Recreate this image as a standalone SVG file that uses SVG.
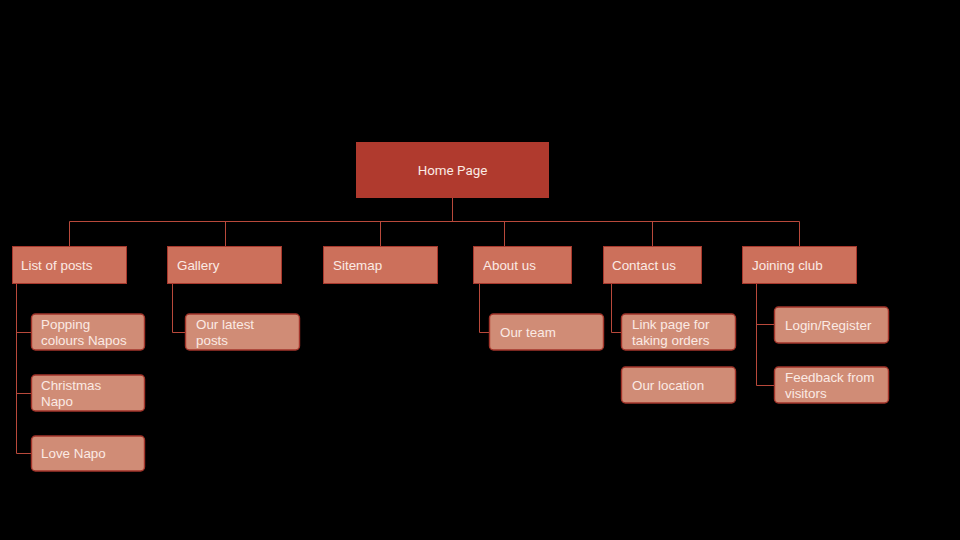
<svg xmlns="http://www.w3.org/2000/svg" width="960" height="540" viewBox="0 0 960 540">
  <style>
    .root { fill: #b03a2e; }
    .sec { fill: #cc705b; stroke: #a8382d; stroke-width: 1; }
    .sub { fill: #d08c76; stroke: #a3352b; stroke-width: 1.4; }
    .lbl { font-family: "Liberation Sans", Arial, sans-serif; font-size: 13.4px; fill: #fbeae4; }
    .home { font-family: Roboto, "Liberation Sans", sans-serif; font-size: 13.4px; fill: #fbeae4; }
    .wire { fill: none; stroke: #b9493b; stroke-width: 1; }
  </style>
  <rect width="960" height="540" fill="#000"/>

  <g id="connectors" class="wire">
    <path d="M452.5 198 V221.5"/>
    <path d="M69.5 246 V221.5 H799.5 V246"/>
    <path d="M225.5 221.5 V246"/>
    <path d="M380.5 221.5 V246"/>
    <path d="M504.5 221.5 V246"/>
    <path d="M652.5 221.5 V246"/>
    <path d="M16.5 283 V453.5 H31"/>
    <path d="M16.5 332.5 H31"/>
    <path d="M16.5 393.5 H31"/>
    <path d="M172.5 283 V332.5 H185"/>
    <path d="M479.5 283 V332.5 H489"/>
    <path d="M611.5 283 V332.5 H621"/>
    <path d="M756.5 283 V385.5 H774"/>
    <path d="M756.5 324.5 H774"/>
  </g>

  <g id="home-page">
    <rect class="root" x="356" y="142" width="193" height="56"/>
    <text class="home" x="452.5" y="174.5" text-anchor="middle">Home Page</text>
  </g>

  <g id="list-of-posts">
    <rect class="sec" x="12.5" y="246.5" width="114" height="37"/>
    <text class="lbl" x="21" y="269.5">List of posts</text>
  </g>
  <g id="gallery">
    <rect class="sec" x="167.5" y="246.5" width="114" height="37"/>
    <text class="lbl" x="177" y="269.5">Gallery</text>
  </g>
  <g id="sitemap">
    <rect class="sec" x="323.5" y="246.5" width="114" height="37"/>
    <text class="lbl" x="333" y="269.5">Sitemap</text>
  </g>
  <g id="about-us">
    <rect class="sec" x="473.5" y="246.5" width="98" height="37"/>
    <text class="lbl" x="483" y="269.5">About us</text>
  </g>
  <g id="contact-us">
    <rect class="sec" x="603.5" y="246.5" width="98" height="37"/>
    <text class="lbl" x="612" y="269.5">Contact us</text>
  </g>
  <g id="joining-club">
    <rect class="sec" x="742.5" y="246.5" width="114" height="37"/>
    <text class="lbl" x="752" y="269.5">Joining club</text>
  </g>

  <g id="popping-colours">
    <rect class="sub" x="31.5" y="314" width="113" height="36" rx="4"/>
    <text class="lbl" x="41" y="329">Popping</text>
    <text class="lbl" x="41" y="345">colours Napos</text>
  </g>
  <g id="christmas-napo">
    <rect class="sub" x="31.5" y="375" width="113" height="36" rx="4"/>
    <text class="lbl" x="41" y="390">Christmas</text>
    <text class="lbl" x="41" y="406">Napo</text>
  </g>
  <g id="love-napo">
    <rect class="sub" x="31.5" y="436" width="113" height="35" rx="4"/>
    <text class="lbl" x="41" y="458">Love Napo</text>
  </g>
  <g id="latest-posts">
    <rect class="sub" x="185.5" y="314" width="114" height="36" rx="4"/>
    <text class="lbl" x="196" y="329">Our latest</text>
    <text class="lbl" x="196" y="345">posts</text>
  </g>
  <g id="our-team">
    <rect class="sub" x="489.5" y="314" width="114" height="36" rx="4"/>
    <text class="lbl" x="500" y="337">Our team</text>
  </g>
  <g id="link-page">
    <rect class="sub" x="621.5" y="314" width="114" height="36" rx="4"/>
    <text class="lbl" x="632" y="329">Link page for</text>
    <text class="lbl" x="632" y="345">taking orders</text>
  </g>
  <g id="our-location">
    <rect class="sub" x="621.5" y="367" width="114" height="36" rx="4"/>
    <text class="lbl" x="632" y="390">Our location</text>
  </g>
  <g id="login-register">
    <rect class="sub" x="774.5" y="307" width="114" height="36" rx="4"/>
    <text class="lbl" x="785" y="330">Login/Register</text>
  </g>
  <g id="feedback">
    <rect class="sub" x="774.5" y="367" width="114" height="36" rx="4"/>
    <text class="lbl" x="785" y="382">Feedback from</text>
    <text class="lbl" x="785" y="398">visitors</text>
  </g>
</svg>
